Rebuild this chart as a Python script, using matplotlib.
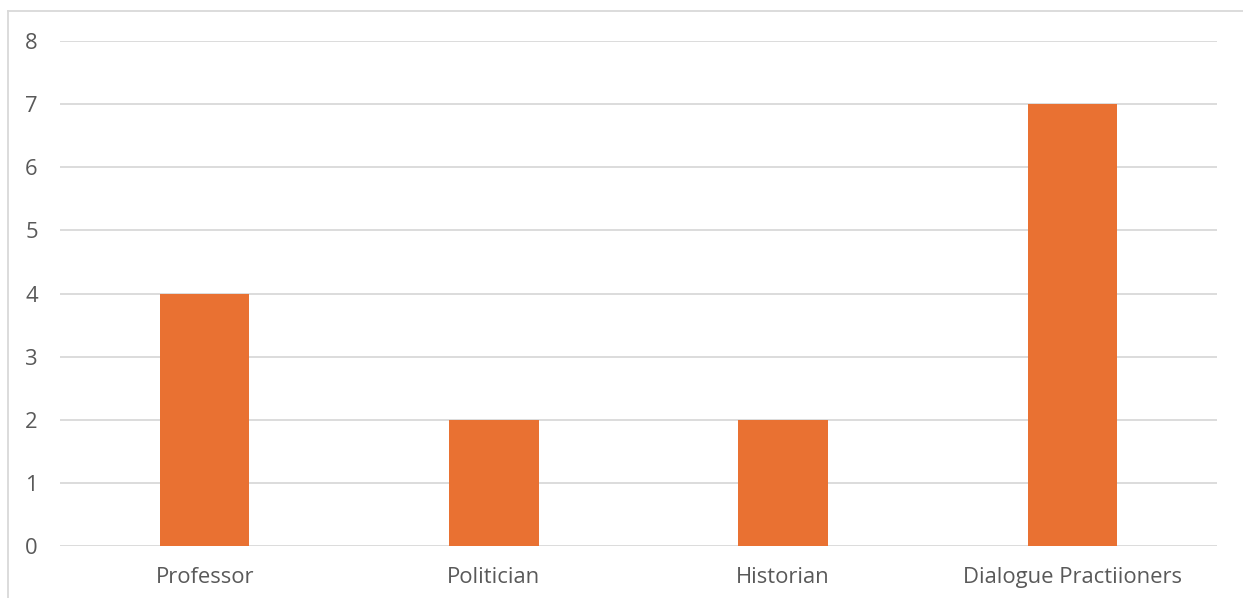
import matplotlib.pyplot as plt
from matplotlib.lines import Line2D

categories = ["Professor", "Politician", "Historian", "Dialogue Practiioners"]
counts = [4, 2, 2, 7]

W, H = 1243, 598
plt.rcParams["font.family"] = ["Open Sans", "DejaVu Sans"]

fig = plt.figure(figsize=(W / 100, H / 100), dpi=100)
ax = fig.add_axes([60 / W, 1 - 546 / H, (1217 - 60) / W, (546 - 41) / H])

x = range(len(categories))
ax.bar(x, counts, width=0.31, color="#E97132", zorder=3)

ax.set_xlim(-0.5, len(categories) - 0.5)
ax.set_ylim(0, 8)
ax.set_yticks(range(0, 9))
ax.set_xticks(list(x))
ax.set_xticklabels(categories)
ax.grid(axis="y", color="#d9d9d9", linewidth=1.3, zorder=0)
for s in ax.spines.values():
    s.set_visible(False)
ax.tick_params(length=0, labelsize=15.8, colors="#595959")
ax.tick_params(axis="x", pad=15)
ax.tick_params(axis="y", pad=16)

# chart frame (left and top edges)
fig.add_artist(Line2D([8 / W, 8 / W], [0, 1 - 11 / H], transform=fig.transFigure,
                      color="#d9d9d9", linewidth=1.3))
fig.add_artist(Line2D([8 / W, 1], [1 - 11 / H, 1 - 11 / H], transform=fig.transFigure,
                      color="#d9d9d9", linewidth=1.3))

fig.savefig("out.png", dpi=100)
